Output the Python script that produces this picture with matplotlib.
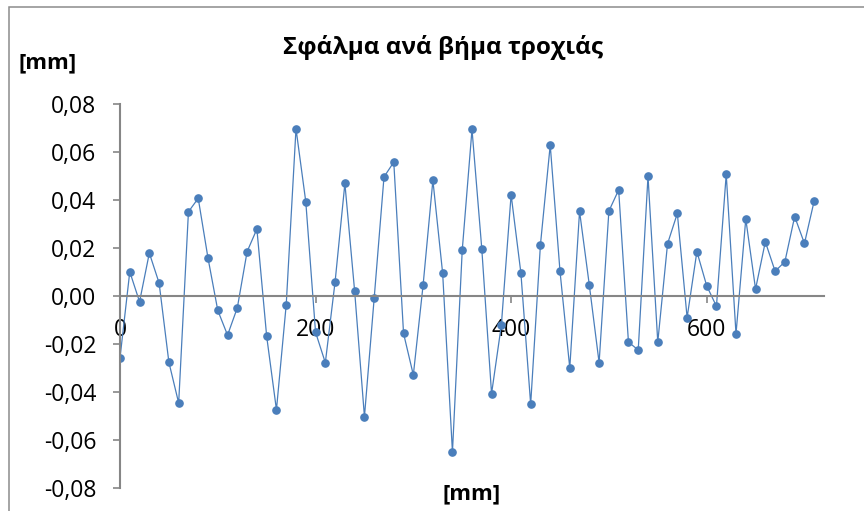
import matplotlib
matplotlib.use("Agg")
import matplotlib.pyplot as plt
from matplotlib.patches import Rectangle
from matplotlib.ticker import FuncFormatter, MultipleLocator

plt.rcParams['font.family'] = ['Open Sans', 'DejaVu Sans']

# Step position along the trajectory [mm]
step_mm = list(range(0, 720, 10))

# Error per step [mm]
error_mm = [
    -0.0258, 0.0101, -0.0024, 0.0179, 0.0054, -0.0276, -0.0446, 0.0351,
    0.0407, 0.0158, -0.0060, -0.0163, -0.0049, 0.0185, 0.0279, -0.0168,
    -0.0474, -0.0036, 0.0697, 0.0393, -0.0151, -0.0278, 0.0060, 0.0469,
    0.0019, -0.0503, -0.0007, 0.0496, 0.0558, -0.0156, -0.0329, 0.0046,
    0.0482, 0.0094, -0.0650, 0.0190, 0.0694, 0.0197, -0.0407, -0.0122,
    0.0422, 0.0096, -0.0451, 0.0214, 0.0629, 0.0103, -0.0300, 0.0353,
    0.0045, -0.0278, 0.0354, 0.0442, -0.0192, -0.0225, 0.0499, -0.0192,
    0.0218, 0.0344, -0.0090, 0.0185, 0.0043, -0.0043, 0.0507, -0.0158,
    0.0321, 0.0029, 0.0226, 0.0103, 0.0143, 0.0331, 0.0219, 0.0397,
]

title = "Σφάλμα ανά βήμα τροχιάς"
unit_label = "[mm]"

W, H = 864, 511
fig = plt.figure(figsize=(W / 100, H / 100), dpi=100)
fig.patch.set_facecolor("white")

# chart frame
fig.patches.append(Rectangle((9 / W, -0.2), 1.2, (H - 7) / H + 0.2,
                             transform=fig.transFigure, fill=False,
                             edgecolor="#8c8c8c", linewidth=1.1))

ax = fig.add_axes([120 / W, 23 / H, 704 / W, 384 / H])
ax.plot(step_mm, error_mm, color="#4A7EBB", linewidth=0.9,
        marker="o", markersize=5.2, markerfacecolor="#4A7EBB",
        markeredgecolor="#4A7EBB", zorder=2)

ax.set_xlim(0, 720)
ax.set_ylim(-0.08, 0.08)
ax.xaxis.set_major_locator(MultipleLocator(200))
ax.yaxis.set_major_locator(MultipleLocator(0.02))

def comma_fmt(v, pos):
    s = f"{v:.2f}".replace(".", ",")
    if s == "-0,00":
        s = "0,00"
    return s

ax.yaxis.set_major_formatter(FuncFormatter(comma_fmt))
ax.xaxis.set_major_formatter(FuncFormatter(lambda v, p: f"{v:.0f}"))

axis_col = "#868686"
for side in ("top", "right"):
    ax.spines[side].set_visible(False)
ax.spines["left"].set_color(axis_col)
ax.spines["left"].set_linewidth(1.5)
ax.spines["bottom"].set_position(("data", 0))
ax.spines["bottom"].set_color(axis_col)
ax.spines["bottom"].set_linewidth(1.5)

ax.tick_params(axis="y", direction="out", length=5, width=1.2,
               color=axis_col, labelsize=16.5, pad=12, labelcolor="black")
ax.tick_params(axis="x", direction="out", length=5, width=1.2,
               color=axis_col, labelsize=16.5, pad=11, labelcolor="black")
for lbl in ax.get_xticklabels() + ax.get_yticklabels():
    lbl.set_zorder(5)
ax.set_facecolor("none")

fig.text(443 / W, 1 - 48 / H, title, ha="center", va="center",
         fontsize=17.5, fontweight="bold")
fig.text(18 / W, 1 - 63 / H, unit_label, ha="left", va="center",
         fontsize=16, fontweight="bold")
fig.text(472 / W, 1 - 494 / H, unit_label, ha="center", va="center",
         fontsize=16, fontweight="bold")

fig.savefig("out.png", dpi=100, facecolor="white")
